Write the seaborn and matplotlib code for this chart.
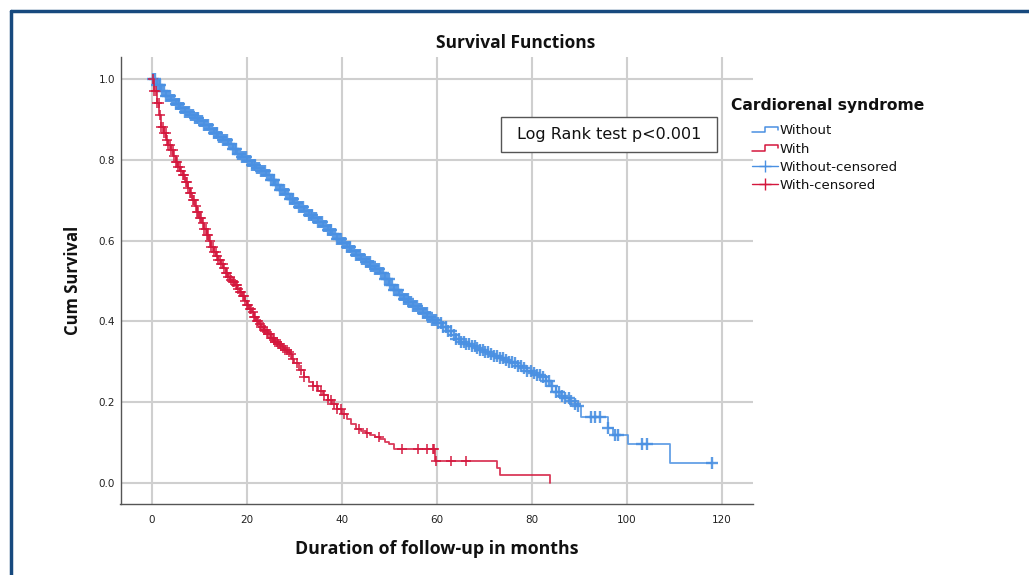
import numpy as np
import pandas as pd
import seaborn as sns
import matplotlib.pyplot as plt
from matplotlib.lines import Line2D
from matplotlib.patches import Rectangle
from matplotlib.legend_handler import HandlerBase

# Kaplan-Meier steps (months, cumulative survival)
without_time = [0, 1, 2, 3, 4, 5, 6, 7, 8, 9, 10, 11, 12, 13, 14, 15, 16, 17, 18, 19,
                20, 21, 22, 23, 24, 25, 26, 27, 28, 29, 30, 31, 32, 33, 34, 35, 36, 37,
                38, 39, 40, 41, 42, 43, 44, 45, 46, 47, 48, 49, 50, 51, 52, 53, 54, 55,
                56, 57, 58, 59, 60, 61, 62, 63, 64, 65, 66, 67, 68, 69, 70, 71, 72, 73,
                74, 75, 76, 77, 78, 79, 80, 81, 82, 83, 84, 85, 86, 87, 88, 89, 89.5,
                90.4, 95.9, 97.1, 100.2, 109.1, 117.8]
without_surv = [1.000, 0.985, 0.970, 0.958, 0.948, 0.938, 0.928, 0.919, 0.910, 0.903,
                0.896, 0.886, 0.875, 0.866, 0.857, 0.848, 0.838, 0.826, 0.815, 0.806,
                0.797, 0.788, 0.780, 0.771, 0.762, 0.749, 0.737, 0.725, 0.714, 0.703,
                0.692, 0.682, 0.672, 0.664, 0.655, 0.645, 0.635, 0.625, 0.615, 0.605,
                0.594, 0.585, 0.575, 0.565, 0.555, 0.547, 0.538, 0.529, 0.520, 0.505,
                0.490, 0.477, 0.465, 0.456, 0.447, 0.438, 0.430, 0.421, 0.412, 0.404,
                0.395, 0.386, 0.376, 0.366, 0.357, 0.350, 0.343, 0.338, 0.333, 0.328,
                0.324, 0.320, 0.315, 0.310, 0.305, 0.300, 0.296, 0.290, 0.284, 0.278,
                0.272, 0.267, 0.262, 0.252, 0.240, 0.225, 0.215, 0.210, 0.204, 0.196,
                0.190, 0.164, 0.135, 0.119, 0.097, 0.049, 0.049]

with_time = [0, 0.5, 1, 1.5, 2, 2.5, 3, 3.5, 4, 4.5, 5, 5.5, 6, 6.5, 7, 7.5, 8, 8.5,
             9, 9.5, 10, 10.5, 11, 11.5, 12, 12.5, 13, 13.5, 14, 14.5, 15, 15.5, 16,
             16.5, 17, 17.5, 18, 18.5, 19, 19.5, 20, 20.5, 21, 21.5, 22, 22.5, 23,
             23.5, 24, 24.5, 25, 25.5, 26, 26.5, 27, 27.5, 28, 28.5, 29, 29.5, 30, 31,
             32, 33, 34, 35, 36, 37, 38, 39, 40, 41, 42, 43, 44, 45, 46, 47, 48, 49,
             50, 51, 59.6, 72.6, 73.3, 83.7]
with_surv = [1.0, 0.97, 0.94, 0.91, 0.882, 0.866, 0.85, 0.837, 0.824, 0.81, 0.795,
             0.783, 0.772, 0.762, 0.745, 0.731, 0.717, 0.701, 0.685, 0.671, 0.657,
             0.643, 0.628, 0.613, 0.598, 0.585, 0.572, 0.561, 0.551, 0.542, 0.531,
             0.520, 0.510, 0.503, 0.497, 0.489, 0.481, 0.473, 0.462, 0.451, 0.440,
             0.431, 0.422, 0.411, 0.400, 0.393, 0.386, 0.379, 0.373, 0.368, 0.360,
             0.355, 0.350, 0.345, 0.340, 0.335, 0.329, 0.323, 0.318, 0.308, 0.298,
             0.280, 0.263, 0.251, 0.239, 0.228, 0.217, 0.206, 0.195, 0.183, 0.170,
             0.158, 0.146, 0.134, 0.128, 0.124, 0.119, 0.114, 0.109, 0.102, 0.097,
             0.084, 0.054, 0.036, 0.020, 0.0]

# censoring times
without_cens = [0.2, 0.6, 1.0, 1.4, 1.8, 2.2, 2.6, 3.0, 3.4, 3.8, 4.2, 4.6, 5.0, 5.4,
                5.8, 6.2, 6.6, 7.0, 7.4, 7.8, 8.2, 8.6, 9.0, 9.4, 9.8, 10.2, 10.6, 11.0,
                11.4, 11.8, 12.2, 12.6, 13.0, 13.4, 13.8, 14.2, 14.6, 15.0, 15.4, 15.8,
                16.2, 16.6, 17.0, 17.4, 17.8, 18.2, 18.6, 19.0, 19.4, 19.8, 20.2, 20.6,
                21.0, 21.4, 21.8, 22.2, 22.6, 23.0, 23.4, 23.8, 24.2, 24.6, 25.0, 25.4,
                25.8, 26.2, 26.6, 27.0, 27.4, 27.8, 28.2, 28.6, 29.0, 29.4, 29.8, 30.2,
                30.6, 31.0, 31.4, 31.8, 32.2, 32.6, 33.0, 33.4, 33.8, 34.2, 34.6, 35.0,
                35.4, 35.8, 36.2, 36.6, 37.0, 37.4, 37.8, 38.2, 38.6, 39.0, 39.4, 39.8,
                40.2, 40.6, 41.0, 41.4, 41.8, 42.2, 42.6, 43.0, 43.4, 43.8, 44.2, 44.6,
                45.0, 45.4, 45.8, 46.2, 46.6, 47.0, 47.4, 47.8, 48.2, 48.6, 49.0, 49.4,
                49.8, 50.2, 50.6, 51.0, 51.4, 51.8, 52.2, 52.6, 53.0, 53.4, 53.8, 54.2,
                54.6, 55.0, 55.4, 55.8, 56.2, 56.6, 57.0, 57.4, 57.8, 58.2, 58.6, 59.0,
                59.4, 59.8, 60.3, 60.8, 61.3, 61.9, 62.4, 62.9, 63.5, 64.0, 64.6, 65.1,
                65.7, 66.2, 66.8, 67.4, 67.9, 68.5, 69.1, 69.6, 70.2, 70.8, 71.4, 72.0,
                72.6, 73.2, 73.9, 74.5, 75.1, 75.8, 76.4, 77.0, 77.7, 78.4, 79.0, 79.7,
                80.4, 81.0, 81.6, 82.3, 83.0, 83.6, 84.3, 85.0, 85.6, 86.3, 87.0, 87.7,
                88.3, 89.0, 89.6, 92.5, 93.2, 94.2, 96.0, 97.4, 98.1, 103.2, 104.2, 117.8]
with_cens = [0.2, 0.5, 0.8, 1.1, 1.4, 1.7, 2.0, 2.3, 2.6, 2.9, 3.2, 3.5, 3.8, 4.1,
             4.4, 4.7, 5.0, 5.3, 5.6, 5.9, 6.2, 6.5, 6.8, 7.1, 7.4, 7.7, 8.0, 8.3, 8.6,
             8.9, 9.2, 9.5, 9.8, 10.1, 10.4, 10.7, 11.0, 11.3, 11.6, 11.9, 12.2, 12.5,
             12.8, 13.1, 13.4, 13.7, 14.0, 14.3, 14.6, 14.9, 15.2, 15.5, 15.8, 16.1,
             16.4, 16.7, 17.0, 17.3, 17.6, 17.9, 18.2, 18.5, 18.8, 19.1, 19.4, 19.7,
             20.0, 20.3, 20.6, 20.9, 21.2, 21.5, 21.8, 22.1, 22.4, 22.7, 23.0, 23.3,
             23.6, 23.9, 24.2, 24.5, 24.8, 25.1, 25.4, 25.7, 26.0, 26.3, 26.6, 26.9,
             27.2, 27.6, 28.0, 28.4, 28.8, 29.3, 29.8, 30.6, 31.4, 32.1, 34.0, 34.8,
             35.6, 36.3, 37.0, 37.8, 38.3, 39.0, 39.7, 40.4, 43.6, 45.3, 47.8, 52.7,
             55.9, 58.0, 59.1, 59.4, 59.8, 62.9, 66.0]

groups = ['Without', 'With']
colors = {'Without': '#4a90e2', 'With': '#d4173d'}


def censor_frame(times, surv, cens):
    # y of a censor mark = survival of the step it sits on
    idx = np.searchsorted(times, cens, side='right') - 1
    return pd.DataFrame({'t': cens, 's': np.asarray(surv)[idx]})


class KMHandler(HandlerBase):
    def __init__(self, kind):
        super().__init__()
        self.kind = kind

    def create_artists(self, legend, orig_handle, xdescent, ydescent,
                       width, height, fontsize, trans):
        x0 = -xdescent + width * 0.38
        x1 = -xdescent + width
        y = -ydescent
        c = orig_handle.get_color()
        if self.kind == 'step':
            xm = (x0 + x1) / 2
            xs = [x0, xm, xm, x1, x1]
            ys = [y + 0.2 * height, y + 0.2 * height, y + 0.8 * height,
                  y + 0.8 * height, y + 0.45 * height]
            ln = Line2D(xs, ys, color=c, lw=1.1)
            ln.set_transform(trans)
            return [ln]
        ym = y + height / 2
        ln = Line2D([x0, x1], [ym, ym], color=c, lw=1.0)
        mk = Line2D([(x0 + x1) / 2], [ym], color=c, marker='+', markersize=9,
                    mew=1.0, linestyle='none')
        ln.set_transform(trans)
        mk.set_transform(trans)
        return [ln, mk]


sns.set_style('white')
plt.rcParams['font.family'] = ['DejaVu Sans']

fig = plt.figure(figsize=(10.29, 5.75), dpi=100)
ax = fig.add_axes([120.5 / 1029, 71 / 575, 632.5 / 1029, 447.3 / 575])

curves = {'Without': (without_time, without_surv, without_cens, 72, 1.7),
          'With': (with_time, with_surv, with_cens, 50, 1.2)}

for g in groups:
    t, s, c, size, lw = curves[g]
    cf = censor_frame(t, s, c)
    sns.scatterplot(data=cf, x='t', y='s', marker='+', s=size, linewidth=lw,
                    color=colors[g], alpha=0.9, ax=ax, zorder=3, legend=False)
for g in groups:
    t, s = curves[g][0], curves[g][1]
    sns.lineplot(x=t, y=s, drawstyle='steps-post', color=colors[g], lw=1.3,
                 estimator=None, sort=False, ax=ax, zorder=4, alpha=0.85)

ax.set_xlim(-6.6, 126.5)
ax.set_ylim(-0.052, 1.055)
ax.set_xticks([0, 20, 40, 60, 80, 100, 120])
ax.set_yticks([0.0, 0.2, 0.4, 0.6, 0.8, 1.0])
ax.set_yticklabels(['0.0', '0.2', '0.4', '0.6', '0.8', '1.0'])
ax.grid(True, color='#cfcfcf', lw=1.5)
ax.set_axisbelow(True)
for side in ['top', 'right']:
    ax.spines[side].set_visible(False)
for side in ['left', 'bottom']:
    ax.spines[side].set_color('#555555')
    ax.spines[side].set_linewidth(1.0)
ax.tick_params(length=0, labelsize=7.5, colors='#222222')
ax.tick_params(axis='x', pad=8)
ax.tick_params(axis='y', pad=4)

ax.set_xlabel('Duration of follow-up in months', fontsize=12.8, fontweight='bold',
              family='Open Sans', labelpad=11, color='#111111')
ax.set_ylabel('Cum Survival', fontsize=12, fontweight='bold',
              family='Open Sans', labelpad=12, color='#111111')
fig.text(516 / 1029, 1 - 43 / 575, 'Survival Functions', ha='center', va='center',
         fontsize=12.5, fontweight='bold', family='Open Sans', color='#111111')

# Log rank box
ax.add_patch(Rectangle((0.6016, 0.787), 0.3415, 0.0782, transform=ax.transAxes,
                       fc='white', ec='#555555', lw=1.0, zorder=5))
ax.text(0.772, 0.826, 'Log Rank test p<0.001', transform=ax.transAxes,
        ha='center', va='center', fontsize=11.5, zorder=6, color='#111111')

# legend
fig.text(731 / 1029, 1 - 105 / 575, 'Cardiorenal syndrome', ha='left', va='center',
         fontsize=11.2, fontweight='bold', color='#111111')
h_without = Line2D([], [], color=colors['Without'])
h_with = Line2D([], [], color=colors['With'])
h_without_c = Line2D([], [], color=colors['Without'])
h_with_c = Line2D([], [], color=colors['With'])
leg = fig.legend([h_without, h_with, h_without_c, h_with_c],
                 ['Without', 'With', 'Without-censored', 'With-censored'],
                 handler_map={h_without: KMHandler('step'), h_with: KMHandler('step'),
                              h_without_c: KMHandler('cens'), h_with_c: KMHandler('cens')},
                 loc='upper left', bbox_to_anchor=(727 / 1029, 1 - 115 / 575),
                 frameon=False, fontsize=9.5, labelcolor='#111111',
                 handlelength=3.2, handletextpad=0.1, labelspacing=0.4,
                 borderpad=0.2)

# dark blue frame on left and top
fig.add_artist(Line2D([11 / 1029, 11 / 1029], [0, 1 - 11 / 575], color='#17497e', lw=2.5))
fig.add_artist(Line2D([11 / 1029, 1], [1 - 11 / 575, 1 - 11 / 575], color='#17497e', lw=2.5))

fig.savefig('out.png', dpi=100)
